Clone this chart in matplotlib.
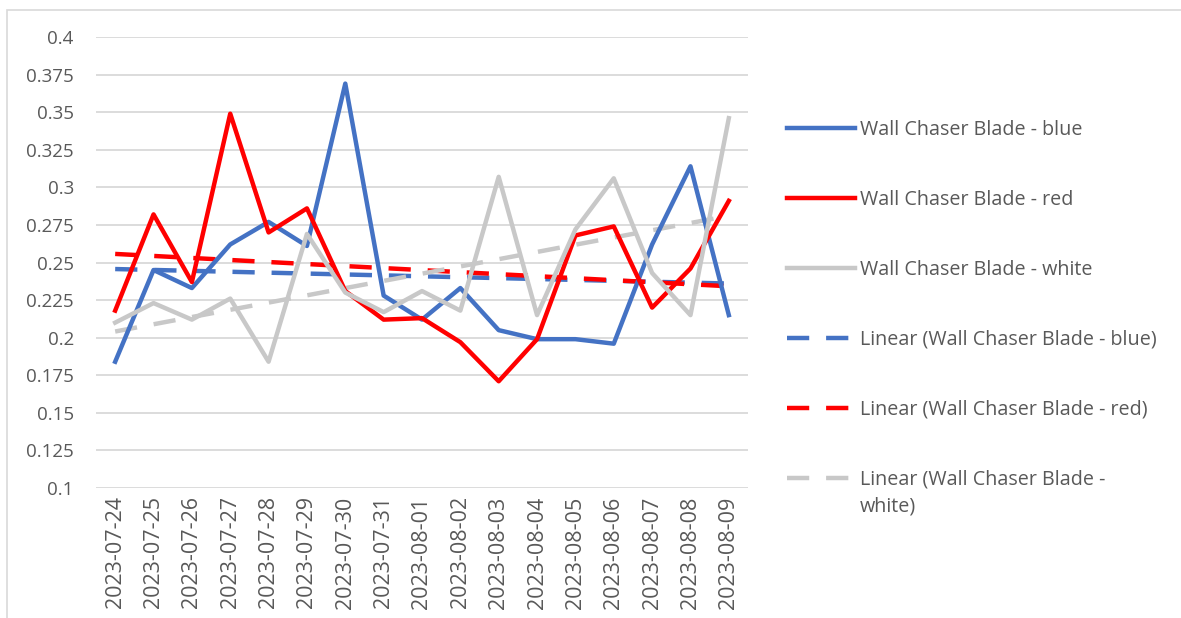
import numpy as np
import matplotlib
matplotlib.use("Agg")
import matplotlib.pyplot as plt
from matplotlib.patches import Rectangle

dates = ["2023-07-24", "2023-07-25", "2023-07-26", "2023-07-27", "2023-07-28",
         "2023-07-29", "2023-07-30", "2023-07-31", "2023-08-01", "2023-08-02",
         "2023-08-03", "2023-08-04", "2023-08-05", "2023-08-06", "2023-08-07",
         "2023-08-08", "2023-08-09"]

blue = [0.184, 0.245, 0.233, 0.262, 0.277, 0.261, 0.369, 0.228, 0.212, 0.233,
        0.205, 0.199, 0.199, 0.196, 0.262, 0.314, 0.215]
red = [0.218, 0.282, 0.237, 0.349, 0.270, 0.286, 0.231, 0.212, 0.213, 0.197,
       0.171, 0.199, 0.268, 0.274, 0.220, 0.246, 0.291]
white = [0.210, 0.223, 0.212, 0.226, 0.184, 0.269, 0.230, 0.217, 0.231, 0.218,
         0.307, 0.215, 0.272, 0.306, 0.243, 0.215, 0.346]

labels = ["Wall Chaser Blade - blue", "Wall Chaser Blade - red", "Wall Chaser Blade - white"]
trend_labels = ["Linear (Wall Chaser Blade - blue)", "Linear (Wall Chaser Blade - red)",
                "Linear (Wall Chaser Blade -"]
trend_label_tail = "white)"
colors = ["#4472C4", "#FF0000", "#C8C8C8"]

yticks = [0.1, 0.125, 0.15, 0.175, 0.2, 0.225, 0.25, 0.275, 0.3, 0.325, 0.35, 0.375, 0.4]
ytick_labels = ["0.1", "0.125", "0.15", "0.175", "0.2", "0.225", "0.25", "0.275",
                "0.3", "0.325", "0.35", "0.375", "0.4"]

plt.rcParams['font.family'] = ['Open Sans', 'DejaVu Sans']
text_color = "#595959"
LEG_FS = 14.2
LW = 3.2

fig = plt.figure(figsize=(11.81, 6.18), dpi=100)
fig.patches.append(Rectangle((7 / 1181, -0.05), 1.2, 1 - 10 / 618 + 0.05,
                             transform=fig.transFigure, facecolor="none",
                             edgecolor="#D9D9D9", linewidth=1.2, zorder=0))

ax = fig.add_axes([96 / 1181, 130 / 618, 652 / 1181, 451 / 618])
x = np.arange(len(dates))

series = [blue, red, white]
handles = []
for vals, lab, col in zip(series, labels, colors):
    h, = ax.plot(x, vals, color=col, linewidth=LW, label=lab, solid_joinstyle='round',
                 zorder=3)
    handles.append(h)
for vals, lab, col in zip(series, trend_labels, colors):
    coef = np.polyfit(x, vals, 1)
    h, = ax.plot(x, np.polyval(coef, x), color=col, linewidth=LW, label=lab,
                 dashes=(5.0, 3.8), zorder=2)
    handles.append(h)

ax.set_xlim(-0.5, len(dates) - 0.5)
ax.set_ylim(0.1, 0.4)
ax.set_yticks(yticks)
ax.set_yticklabels(ytick_labels)
ax.set_xticks(x)
ax.set_xticklabels(dates, rotation=90)
ax.grid(axis='y', color="#D9D9D9", linewidth=1.3, zorder=0)
ax.set_axisbelow(True)
for s in ax.spines.values():
    s.set_visible(False)
ax.tick_params(axis='y', length=0, labelsize=13.5, colors=text_color, pad=16)
ax.tick_params(axis='x', length=0, labelsize=15.5, colors=text_color, pad=6)

leg = ax.legend(handles=handles, loc='upper left', bbox_to_anchor=(787 / 1181, 1 - 120 / 618),
                bbox_transform=fig.transFigure, frameon=False, fontsize=LEG_FS,
                handlelength=3.45, handletextpad=0.25, labelspacing=2.53,
                borderpad=0, borderaxespad=0)
for t in leg.get_texts():
    t.set_color(text_color)

fig.canvas.draw()
last = leg.get_texts()[-1]
bb = last.get_window_extent(renderer=fig.canvas.get_renderer())
fig.text(bb.x0, bb.y0 - 27, trend_label_tail, fontsize=LEG_FS, color=text_color,
         transform=None, ha='left', va='bottom')

fig.savefig("out.png", dpi=100)
